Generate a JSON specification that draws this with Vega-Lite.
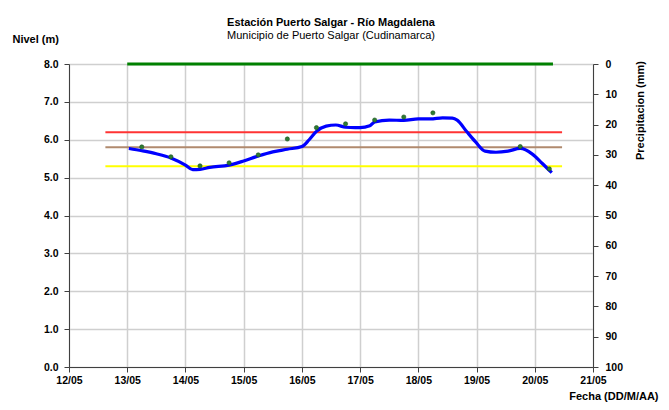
{
  "$schema": "https://vega.github.io/schema/vega-lite/v6.json",
  "autosize": "none",
  "width": 524,
  "height": 303,
  "padding": {"left": 69, "top": 64, "right": 76, "bottom": 43},
  "background": "white",
  "title": {
    "text": "Estación Puerto Salgar - Río Magdalena",
    "subtitle": "Municipio de Puerto Salgar (Cudinamarca)",
    "anchor": "middle",
    "frame": "group",
    "font": "Liberation Sans",
    "fontSize": 11,
    "fontWeight": "bold",
    "color": "black",
    "subtitleFont": "Liberation Sans",
    "subtitleFontSize": 11,
    "subtitleColor": "black",
    "subtitlePadding": 2,
    "offset": -8
  },
  "datasets": {
    "nivel": [
      {"fecha": "2011-05-13T00:40", "nivel": 5.77},
      {"fecha": "2011-05-13T06:00", "nivel": 5.71},
      {"fecha": "2011-05-13T12:00", "nivel": 5.63},
      {"fecha": "2011-05-13T18:00", "nivel": 5.52},
      {"fecha": "2011-05-14T00:00", "nivel": 5.33},
      {"fecha": "2011-05-14T03:00", "nivel": 5.21},
      {"fecha": "2011-05-14T06:00", "nivel": 5.22},
      {"fecha": "2011-05-14T10:00", "nivel": 5.27},
      {"fecha": "2011-05-14T18:00", "nivel": 5.33},
      {"fecha": "2011-05-15T00:00", "nivel": 5.44},
      {"fecha": "2011-05-15T06:00", "nivel": 5.57},
      {"fecha": "2011-05-15T12:00", "nivel": 5.68},
      {"fecha": "2011-05-15T18:00", "nivel": 5.75},
      {"fecha": "2011-05-16T00:00", "nivel": 5.82},
      {"fecha": "2011-05-16T03:00", "nivel": 6.0},
      {"fecha": "2011-05-16T06:00", "nivel": 6.22},
      {"fecha": "2011-05-16T10:00", "nivel": 6.36},
      {"fecha": "2011-05-16T14:00", "nivel": 6.39},
      {"fecha": "2011-05-16T18:00", "nivel": 6.33},
      {"fecha": "2011-05-16T22:00", "nivel": 6.32},
      {"fecha": "2011-05-17T00:00", "nivel": 6.32},
      {"fecha": "2011-05-17T04:00", "nivel": 6.37},
      {"fecha": "2011-05-17T06:00", "nivel": 6.47},
      {"fecha": "2011-05-17T12:00", "nivel": 6.52},
      {"fecha": "2011-05-17T18:00", "nivel": 6.51},
      {"fecha": "2011-05-18T00:00", "nivel": 6.55},
      {"fecha": "2011-05-18T05:00", "nivel": 6.55},
      {"fecha": "2011-05-18T10:00", "nivel": 6.58},
      {"fecha": "2011-05-18T14:00", "nivel": 6.57},
      {"fecha": "2011-05-18T16:00", "nivel": 6.52},
      {"fecha": "2011-05-18T20:00", "nivel": 6.21},
      {"fecha": "2011-05-18T23:30", "nivel": 5.95},
      {"fecha": "2011-05-19T03:30", "nivel": 5.7},
      {"fecha": "2011-05-19T08:00", "nivel": 5.67},
      {"fecha": "2011-05-19T13:00", "nivel": 5.7},
      {"fecha": "2011-05-19T18:00", "nivel": 5.77},
      {"fecha": "2011-05-19T23:00", "nivel": 5.62},
      {"fecha": "2011-05-20T03:00", "nivel": 5.38},
      {"fecha": "2011-05-20T07:00", "nivel": 5.13}
    ],
    "lecturas": [
      {"fecha": "2011-05-13T06:00", "nivel": 5.81},
      {"fecha": "2011-05-13T18:00", "nivel": 5.55},
      {"fecha": "2011-05-14T06:00", "nivel": 5.31},
      {"fecha": "2011-05-14T18:00", "nivel": 5.39},
      {"fecha": "2011-05-15T06:00", "nivel": 5.6},
      {"fecha": "2011-05-15T18:00", "nivel": 6.02},
      {"fecha": "2011-05-16T06:00", "nivel": 6.32},
      {"fecha": "2011-05-16T18:00", "nivel": 6.42},
      {"fecha": "2011-05-17T06:00", "nivel": 6.52},
      {"fecha": "2011-05-17T18:00", "nivel": 6.6},
      {"fecha": "2011-05-18T06:00", "nivel": 6.71},
      {"fecha": "2011-05-19T18:00", "nivel": 5.82},
      {"fecha": "2011-05-20T06:00", "nivel": 5.23}
    ],
    "umbrales": [
      {"inicio": "2011-05-12T15:00", "fin": "2011-05-20T11:15", "nivel": 6.2, "tipo": "rojo"},
      {"inicio": "2011-05-12T15:00", "fin": "2011-05-20T11:15", "nivel": 5.8, "tipo": "naranja"},
      {"inicio": "2011-05-12T15:00", "fin": "2011-05-20T11:15", "nivel": 5.3, "tipo": "amarillo"}
    ],
    "precipitacion": [
      {"fecha": "2011-05-13T00:00", "precip": 0},
      {"fecha": "2011-05-20T07:30", "precip": 0}
    ]
  },
  "config": {
    "view": {"stroke": null},
    "axis": {
      "labelFont": "Liberation Sans",
      "labelFontSize": 10.5,
      "labelFontWeight": "bold",
      "labelColor": "black",
      "titleFont": "Liberation Sans",
      "titleFontSize": 11,
      "titleFontWeight": "bold",
      "titleColor": "black",
      "domainColor": "#404040",
      "tickColor": "#404040",
      "gridColor": "#cfcfcf",
      "gridWidth": 1.5
    }
  },
  "layer": [
    {
      "encoding": {
        "y": {
          "field": "nivel",
          "type": "quantitative",
          "scale": {"domain": [0, 8], "nice": false},
          "axis": {
            "title": "Nivel (m)",
            "format": ".1f",
            "values": [0, 1, 2, 3, 4, 5, 6, 7, 8],
            "grid": true,
            "tickSize": 5,
            "labelPadding": 6,
            "titleAngle": 0,
            "titleAlign": "left",
            "titleAnchor": null,
            "titleX": -57,
            "titleY": -22,
            "titleBaseline": "alphabetic"
          }
        }
      },
      "layer": [
        {
          "data": {"name": "umbrales"},
          "mark": {"type": "rule", "strokeWidth": 2},
          "encoding": {
            "x": {"field": "inicio", "type": "temporal"},
            "x2": {"field": "fin"},
            "color": {
              "field": "tipo",
              "type": "nominal",
              "scale": {"domain": ["rojo", "naranja", "amarillo"], "range": ["#ff3333", "#b08a6e", "#ffff00"]},
              "legend": null
            }
          }
        },
        {
          "data": {"name": "nivel"},
          "mark": {"type": "line", "color": "#0000ff", "strokeWidth": 3.2, "interpolate": "monotone"},
          "encoding": {
            "x": {"field": "fecha", "type": "temporal"}
          }
        },
        {
          "data": {"name": "lecturas"},
          "mark": {"type": "point", "filled": true, "color": "#2e7d32", "size": 18, "opacity": 1, "stroke": "#1b4d1e", "strokeWidth": 0.6},
          "encoding": {
            "x": {
              "field": "fecha",
              "type": "temporal",
              "scale": {"domain": ["2011-05-12T00:00", "2011-05-21T00:00"]},
              "axis": {
                "title": "Fecha (DD/M/AA)",
                "format": "%d/%m",
                "tickCount": {"interval": "day", "step": 1},
                "grid": true,
                "tickSize": 5,
                "labelPadding": 3,
                "labelFlush": false,
                "labelOverlap": false,
                "titleAngle": 0,
                "titleAlign": "right",
                "titleAnchor": null,
                "titleX": 589,
                "titleY": 32,
                "titleBaseline": "alphabetic"
              }
            }
          }
        }
      ]
    },
    {
      "data": {"name": "precipitacion"},
      "mark": {"type": "line", "color": "#008000", "strokeWidth": 3},
      "encoding": {
        "x": {"field": "fecha", "type": "temporal"},
        "y": {
          "field": "precip",
          "type": "quantitative",
          "scale": {"domain": [0, 100], "reverse": true, "nice": false},
          "axis": {
            "orient": "right",
            "title": "Precipitacion (mm)",
            "values": [0, 10, 20, 30, 40, 50, 60, 70, 80, 90, 100],
            "grid": false,
            "tickSize": 5,
            "labelPadding": 7,
            "titleAngle": 270,
            "titleAlign": "center",
            "titleAnchor": null,
            "titleX": 47,
            "titleY": 46,
            "titleBaseline": "middle"
          }
        }
      }
    }
  ],
  "resolve": {"scale": {"y": "independent"}}
}
